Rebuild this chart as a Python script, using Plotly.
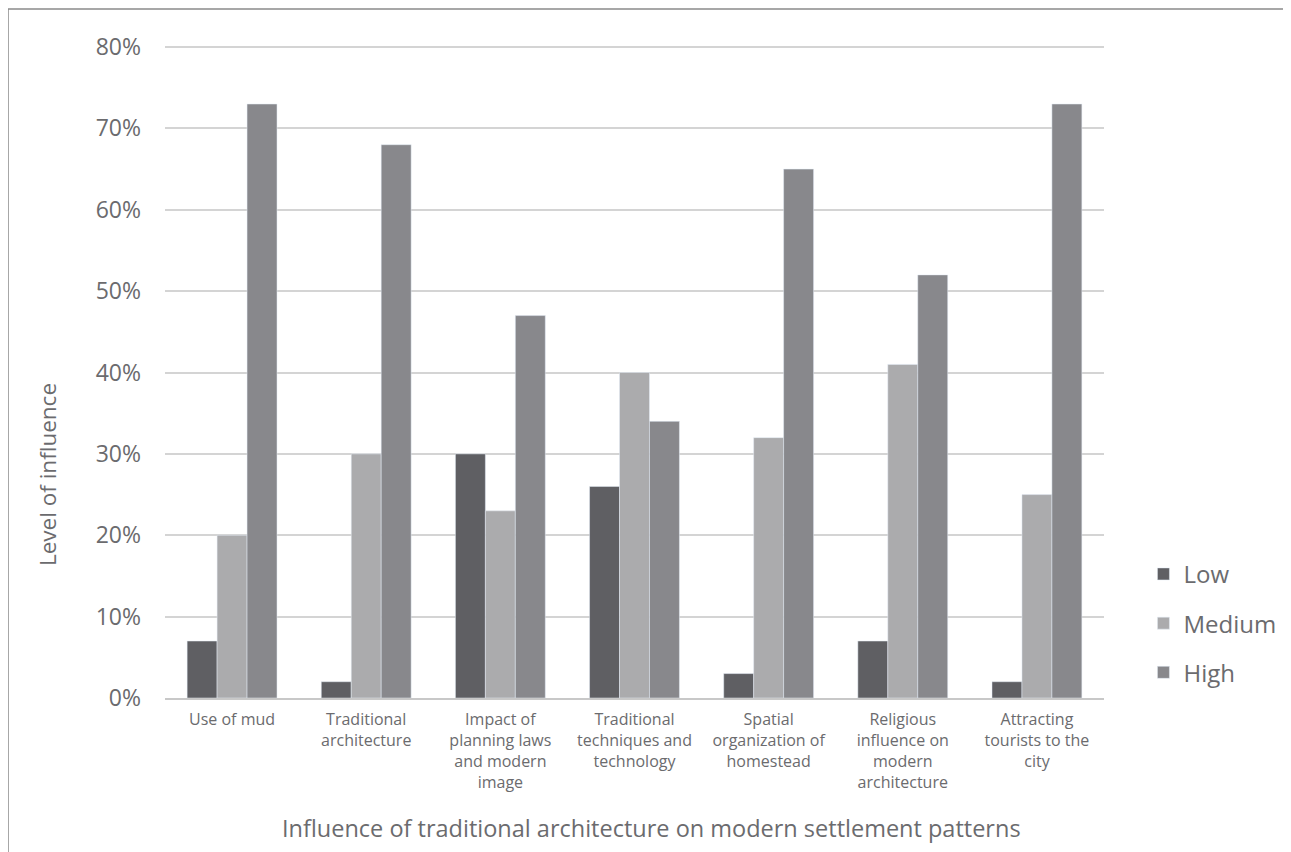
import plotly.graph_objects as go

categories = [
    "Use of mud",
    "Traditional<br>architecture",
    "Impact of<br>planning laws<br>and modern<br>image",
    "Traditional<br>techniques and<br>technology",
    "Spatial<br>organization of<br>homestead",
    "Religious<br>influence on<br>modern<br>architecture",
    "Attracting<br>tourists to the<br>city",
]
low = [7, 2, 30, 26, 3, 7, 2]
medium = [20, 30, 23, 40, 32, 41, 25]
high = [73, 68, 47, 34, 65, 52, 73]
y_ticks = [0, 10, 20, 30, 40, 50, 60, 70, 80]
y_tick_labels = [f"{v}%" for v in y_ticks]

FONT = "Open Sans"
TXT = "#6b6b6e"

fig = go.Figure()
fig.add_trace(go.Bar(name="Low", x=categories, y=low, marker_color="#5f5f63",
                     legendgroup="a"))
fig.add_trace(go.Bar(name="Medium", x=categories, y=medium, marker_color="#ababad",
                     legendgroup="b"))
fig.add_trace(go.Bar(name="High", x=categories, y=high, marker_color="#88888c",
                     legendgroup="c"))

# page offset of 8px (body margin) -> figure coordinates
fig.update_layout(
    width=1283, height=844,
    margin=dict(l=157, r=187, t=35, b=154, autoexpand=False),
    paper_bgcolor="white", plot_bgcolor="white",
    barmode="group", bargap=0.33, bargroupgap=0,
    font=dict(family=FONT, color=TXT),
    showlegend=True,
    legend=dict(x=1.042, xanchor="left", y=0.114, yanchor="middle",
                font=dict(size=24, color=TXT), tracegroupgap=15,
                itemwidth=30, bgcolor="rgba(0,0,0,0)"),
    xaxis=dict(tickfont=dict(size=16, color=TXT), showline=True,
               linecolor="#c8c8c8", linewidth=2, ticks="", showgrid=False,
               ticklabelstandoff=6),
    yaxis=dict(range=[0, 80.5], tickvals=y_ticks, ticktext=y_tick_labels,
               tickfont=dict(size=23, color=TXT), showgrid=True,
               gridcolor="#d4d4d4", gridwidth=2, zeroline=False,
               ticks="", ticklabelstandoff=23),
    annotations=[
        dict(text="Influence of traditional architecture on modern settlement patterns",
             xref="paper", yref="paper", x=0.5176, y=-0.1985, yanchor="middle",
             showarrow=False, font=dict(size=23.5, color=TXT)),
        dict(text="Level of influence", textangle=-90,
             xref="paper", yref="paper", x=-0.1245, y=0.3405, xanchor="center",
             yanchor="middle", showarrow=False, font=dict(size=22.5, color=TXT)),
    ],
    shapes=[
        dict(type="line", xref="paper", yref="paper", x0=-0.1672, x1=1.25,
             y0=1.0519, y1=1.0519, line=dict(color="#8a8a8a", width=1.5)),
        dict(type="line", xref="paper", yref="paper", x0=-0.1672, x1=-0.1672,
             y0=1.0519, y1=-0.25, line=dict(color="#8a8a8a", width=1.5)),
    ],
)
fig.write_html("out.html")
